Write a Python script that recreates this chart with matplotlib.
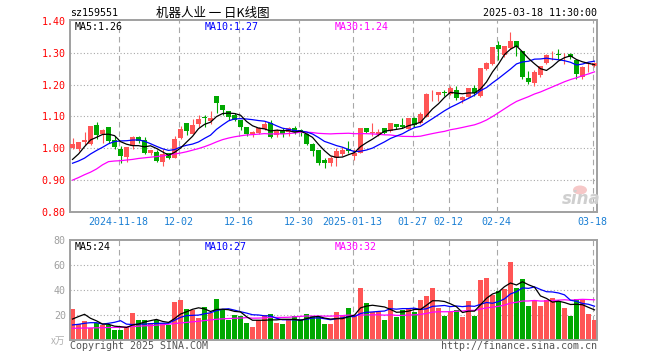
import matplotlib
matplotlib.use('Agg')
import matplotlib.pyplot as plt
from matplotlib.patches import Ellipse
import numpy as np

# ---------------- data ----------------
tick_pos = [8, 18, 28, 38, 47, 57, 63, 71, 87]
tick_labels = ['2024-11-18', '12-02', '12-16', '12-30', '2025-01-13',
               '01-27', '02-12', '02-24', '03-18']

opens = [1.000, 0.998, 1.019, 1.014, 1.072, 1.044, 1.066, 1.026, 0.998, 0.973,
         1.007, 1.035, 1.026, 0.986, 0.988, 0.956, 0.984, 0.971, 1.031, 1.078,
         1.045, 1.076, 1.098, 1.084, 1.164, 1.135, 1.117, 1.105, 1.089, 1.068,
         1.045, 1.049, 1.060, 1.078, 1.042, 1.058, 1.052, 1.063, 1.058, 1.045,
         1.014, 0.993, 0.963, 0.953, 0.969, 0.982, 0.997, 0.976, 0.986, 1.065,
         1.048, 1.045, 1.063, 1.055, 1.076, 1.073, 1.061, 1.094, 1.079, 1.099,
         1.169, 1.168, 1.175, 1.171, 1.183, 1.150, 1.162, 1.190, 1.164, 1.248,
         1.265, 1.324, 1.293, 1.314, 1.335, 1.304, 1.222, 1.204, 1.230, 1.266,
         1.288, 1.293, 1.288, 1.296, 1.277, 1.225, 1.264, 1.258]
highs = [1.031, 1.021, 1.052, 1.071, 1.083, 1.060, 1.067, 1.039, 1.007, 1.003,
         1.039, 1.039, 1.035, 0.993, 0.993, 0.997, 0.986, 1.038, 1.070, 1.078,
         1.091, 1.105, 1.105, 1.118, 1.164, 1.136, 1.117, 1.112, 1.089, 1.068,
         1.055, 1.066, 1.087, 1.089, 1.060, 1.063, 1.068, 1.070, 1.060, 1.047,
         1.016, 0.993, 0.968, 0.975, 1.000, 1.003, 1.024, 0.997, 1.065, 1.065,
         1.079, 1.060, 1.063, 1.079, 1.076, 1.094, 1.094, 1.097, 1.115, 1.173,
         1.183, 1.175, 1.183, 1.196, 1.194, 1.165, 1.190, 1.198, 1.251, 1.272,
         1.319, 1.335, 1.321, 1.366, 1.338, 1.304, 1.241, 1.246, 1.259, 1.297,
         1.304, 1.310, 1.300, 1.300, 1.279, 1.257, 1.271, 1.272]
lows = [0.997, 0.992, 1.010, 1.011, 1.030, 1.018, 1.018, 0.997, 0.955, 0.958,
        0.997, 1.016, 0.982, 0.980, 0.958, 0.945, 0.967, 0.969, 1.028, 1.042,
        1.045, 1.068, 1.068, 1.076, 1.112, 1.105, 1.090, 1.084, 1.058, 1.037,
        1.034, 1.045, 1.058, 1.031, 1.035, 1.035, 1.039, 1.045, 1.039, 1.010,
        0.976, 0.948, 0.937, 0.945, 0.945, 0.976, 0.986, 0.963, 0.986, 1.047,
        1.039, 1.037, 1.045, 1.052, 1.060, 1.063, 1.060, 1.066, 1.076, 1.099,
        1.147, 1.147, 1.163, 1.168, 1.152, 1.143, 1.160, 1.165, 1.162, 1.246,
        1.262, 1.276, 1.286, 1.311, 1.288, 1.217, 1.202, 1.196, 1.223, 1.264,
        1.277, 1.280, 1.265, 1.280, 1.217, 1.217, 1.238, 1.255]
closes = [1.014, 1.019, 1.026, 1.070, 1.043, 1.058, 1.024, 1.003, 0.976, 1.003,
          1.035, 1.024, 0.984, 0.993, 0.961, 0.982, 0.971, 1.028, 1.060, 1.055,
          1.073, 1.091, 1.096, 1.094, 1.143, 1.120, 1.099, 1.089, 1.068, 1.045,
          1.052, 1.063, 1.076, 1.035, 1.058, 1.045, 1.063, 1.052, 1.052, 1.014,
          0.990, 0.953, 0.953, 0.971, 0.990, 0.995, 0.990, 0.986, 1.065, 1.052,
          1.050, 1.052, 1.049, 1.079, 1.066, 1.066, 1.094, 1.073, 1.108, 1.171,
          1.171, 1.175, 1.173, 1.188, 1.157, 1.162, 1.188, 1.172, 1.251, 1.267,
          1.319, 1.312, 1.321, 1.335, 1.319, 1.225, 1.209, 1.238, 1.257, 1.292,
          1.290, 1.292, 1.290, 1.286, 1.234, 1.254, 1.268, 1.269]
volumes = [25.3, 13.0, 15.5, 10.0, 14.0, 12.5, 12.0, 8.0, 8.0, 11.0,
           22.0, 16.0, 16.0, 13.6, 16.0, 14.0, 12.0, 31.0, 32.0, 25.0,
           24.0, 18.0, 26.7, 21.6, 33.0, 25.0, 16.0, 20.0, 19.5, 14.0,
           10.7, 16.0, 20.0, 21.0, 14.0, 13.0, 16.0, 19.7, 17.0, 21.0,
           19.5, 18.4, 13.0, 13.0, 22.7, 19.5, 26.0, 19.5, 42.0, 30.0,
           22.7, 22.7, 16.0, 32.0, 18.7, 24.0, 26.0, 22.7, 32.0, 35.5,
           42.0, 26.0, 19.7, 22.7, 24.0, 18.7, 31.5, 19.7, 48.0, 50.0,
           36.0, 39.5, 41.0, 62.7, 42.0, 49.0, 27.5, 31.5, 27.5, 32.0,
           34.0, 31.5, 26.0, 19.7, 33.0, 32.0, 21.0, 16.0]

# moving-average values for the bars before a full window exists
ma5_head = [0.965, 0.982, 1.005, 1.026]
ma10_head = [0.953, 0.960, 0.969, 0.982, 0.993, 1.003, 1.014, 1.021, 1.023]
ma30_head = [0.900, 0.908, 0.917, 0.925, 0.935, 0.948, 0.958, 0.960, 0.961, 0.963,
             0.965, 0.968, 0.970, 0.972, 0.974, 0.976, 0.979, 0.982, 0.985, 0.989,
             0.994, 0.999, 1.005, 1.012, 1.020, 1.027, 1.032, 1.036, 1.039]
vma5_head = [17.0, 19.0, 20.8, 17.6]
vma10_head = [12.3, 12.8, 13.6, 14.1, 14.1, 13.0, 13.6, 14.4, 15.7]
vma30_head = [9.6, 9.7, 9.8, 9.9, 10.0, 10.1, 10.2, 10.3, 10.4, 10.6,
              11.0, 11.3, 11.6, 11.8, 12.1, 12.5, 12.9, 13.4, 13.9, 14.3,
              14.8, 15.2, 15.8, 16.3, 16.8, 17.2, 17.4, 17.6, 17.8]

price_ticks = [0.80, 0.90, 1.00, 1.10, 1.20, 1.30, 1.40]
vol_ticks = [20, 40, 60, 80]


def moving(vals, n, head):
    out = list(head)
    for i in range(len(head), len(vals)):
        out.append(float(np.mean(vals[i - n + 1:i + 1])))
    return np.array(out)


ma5 = moving(closes, 5, ma5_head)
ma10 = moving(closes, 10, ma10_head)
ma30 = moving(closes, 30, ma30_head)
vma5 = moving(volumes, 5, vma5_head)
vma10 = moving(volumes, 10, vma10_head)
vma30 = moving(volumes, 30, vma30_head)

# ---------------- figure ----------------
W, H = 660, 360
fig = plt.figure(figsize=(6.6, 3.6), dpi=100)
fig.patch.set_facecolor('white')

MONO = 'DejaVu Sans Mono'
CJK = ['Noto Sans CJK SC', 'DejaVu Sans']
RED = '#ff5555'
GREEN = '#00a800'
GRID = '#a8a8a8'
SPINE = '#a0a0a0'
FS = 7.2


def fx(x):
    return x / W


def fy(y):
    return 1 - y / H


L, R = 70, 597
ax = fig.add_axes([fx(L), fy(212), (R - L) / W, (212 - 19.5) / H])
axv = fig.add_axes([fx(L), fy(340.3), (R - L) / W, 100 / H])

n = len(closes)
x = np.arange(n)
colors = [RED if c >= o else GREEN for o, c in zip(opens, closes)]
bw = 0.8

for a in (ax, axv):
    a.set_xlim(-0.42, n - 1 + 0.42)
    for s in a.spines.values():
        s.set_color(SPINE)
        s.set_linewidth(1.4)
    for p in tick_pos:
        a.axvline(p - 0.33, color=GRID, lw=0.8, ls=(0, (5, 3.5)), zorder=0)
    a.tick_params(length=0)

# price panel
ax.set_ylim(0.80, 1.404)
for p in price_ticks[1:-1]:
    ax.axhline(p, color=GRID, lw=0.8, ls=(0, (1, 2)), zorder=0)
ax.vlines(x, lows, highs, colors=colors, lw=0.8, zorder=2)
bottoms = np.minimum(opens, closes)
heights = np.maximum(np.abs(np.array(closes) - np.array(opens)), 0.0025)
ax.bar(x, heights, bottom=bottoms, width=bw, color=colors, lw=0, zorder=3)
ax.plot(x, ma30, color='#ff00ff', lw=0.9, zorder=4)
ax.plot(x, ma10, color='#0000ff', lw=0.9, zorder=4)
ax.plot(x, ma5, color='black', lw=0.9, zorder=4)
ax.set_yticks(price_ticks)
ax.set_yticklabels(['%.2f' % p for p in price_ticks], color='#ff0000',
                   fontfamily=MONO, fontsize=FS)
ax.tick_params(axis='y', pad=3)
ax.set_xticks([p - 0.33 for p in tick_pos])
ax.set_xticklabels(tick_labels, color='#1a7fd4', fontfamily=MONO, fontsize=FS)
ax.tick_params(axis='x', pad=3.5)

# volume panel
axv.set_ylim(0, 80)
for v in vol_ticks[:-1]:
    axv.axhline(v, color=GRID, lw=0.8, ls=(0, (1, 2)), zorder=0)
axv.bar(x, volumes, width=bw, color=colors, lw=0, zorder=2)
axv.plot(x, vma30, color='#ff00ff', lw=0.9, zorder=4)
axv.plot(x, vma10, color='#0000ff', lw=0.9, zorder=4)
axv.plot(x, vma5, color='black', lw=0.9, zorder=4)
axv.set_xticks([])
axv.set_yticks(vol_ticks)
axv.set_yticklabels([str(v) for v in vol_ticks], color='#a0a0a0',
                    fontfamily=MONO, fontsize=FS)
axv.tick_params(axis='y', pad=3)

# texts
fig.text(fx(70), fy(13), 'sz159551', fontfamily=MONO, fontsize=FS, va='center', ha='left')
fig.text(fx(213), fy(13), '机器人业 一 日K线图', family=CJK, fontsize=9, va='center', ha='center')
fig.text(fx(597), fy(13), '2025-03-18 11:30:00', fontfamily=MONO, fontsize=FS,
         va='center', ha='right')

fig.text(fx(75), fy(26.5), 'MA5:%.2f' % ma5[-1], color='black', fontfamily=MONO, fontsize=FS, va='center')
fig.text(fx(205), fy(26.5), 'MA10:%.2f' % ma10[-1], color='#0000ff', fontfamily=MONO, fontsize=FS, va='center')
fig.text(fx(335), fy(26.5), 'MA30:%.2f' % ma30[-1], color='#ff00ff', fontfamily=MONO, fontsize=FS, va='center')

fig.text(fx(75), fy(246.5), 'MA5:%d' % round(vma5[-1]), color='black', fontfamily=MONO, fontsize=FS, va='center')
fig.text(fx(205), fy(246.5), 'MA10:%d' % round(vma10[-1]), color='#0000ff', fontfamily=MONO, fontsize=FS, va='center')
fig.text(fx(335), fy(246.5), 'MA30:%d' % round(vma30[-1]), color='#ff00ff', fontfamily=MONO, fontsize=FS, va='center')

fig.text(fx(65), fy(341), 'x万', family=CJK, color='#b0b0b0', fontsize=7, va='center', ha='right')
fig.text(fx(70), fy(346), 'Copyright 2025 SINA.COM', color='#555555', fontfamily=MONO,
         fontsize=FS, va='center', ha='left')
fig.text(fx(597), fy(346), 'http://finance.sina.com.cn', color='#555555', fontfamily=MONO,
         fontsize=FS, va='center', ha='right')

# sina watermark
fig.add_artist(Ellipse((fx(580), fy(190)), 14 / W, 9 / H, transform=fig.transFigure,
                       facecolor='#f6c8c8', edgecolor='none', zorder=1))
fig.text(fx(581), fy(199), 'sina', color='#cfcfcf', fontsize=12, fontweight='bold',
         fontstyle='italic', ha='center', va='center', family='DejaVu Sans')

fig.savefig('out.png', dpi=100, facecolor='white')
